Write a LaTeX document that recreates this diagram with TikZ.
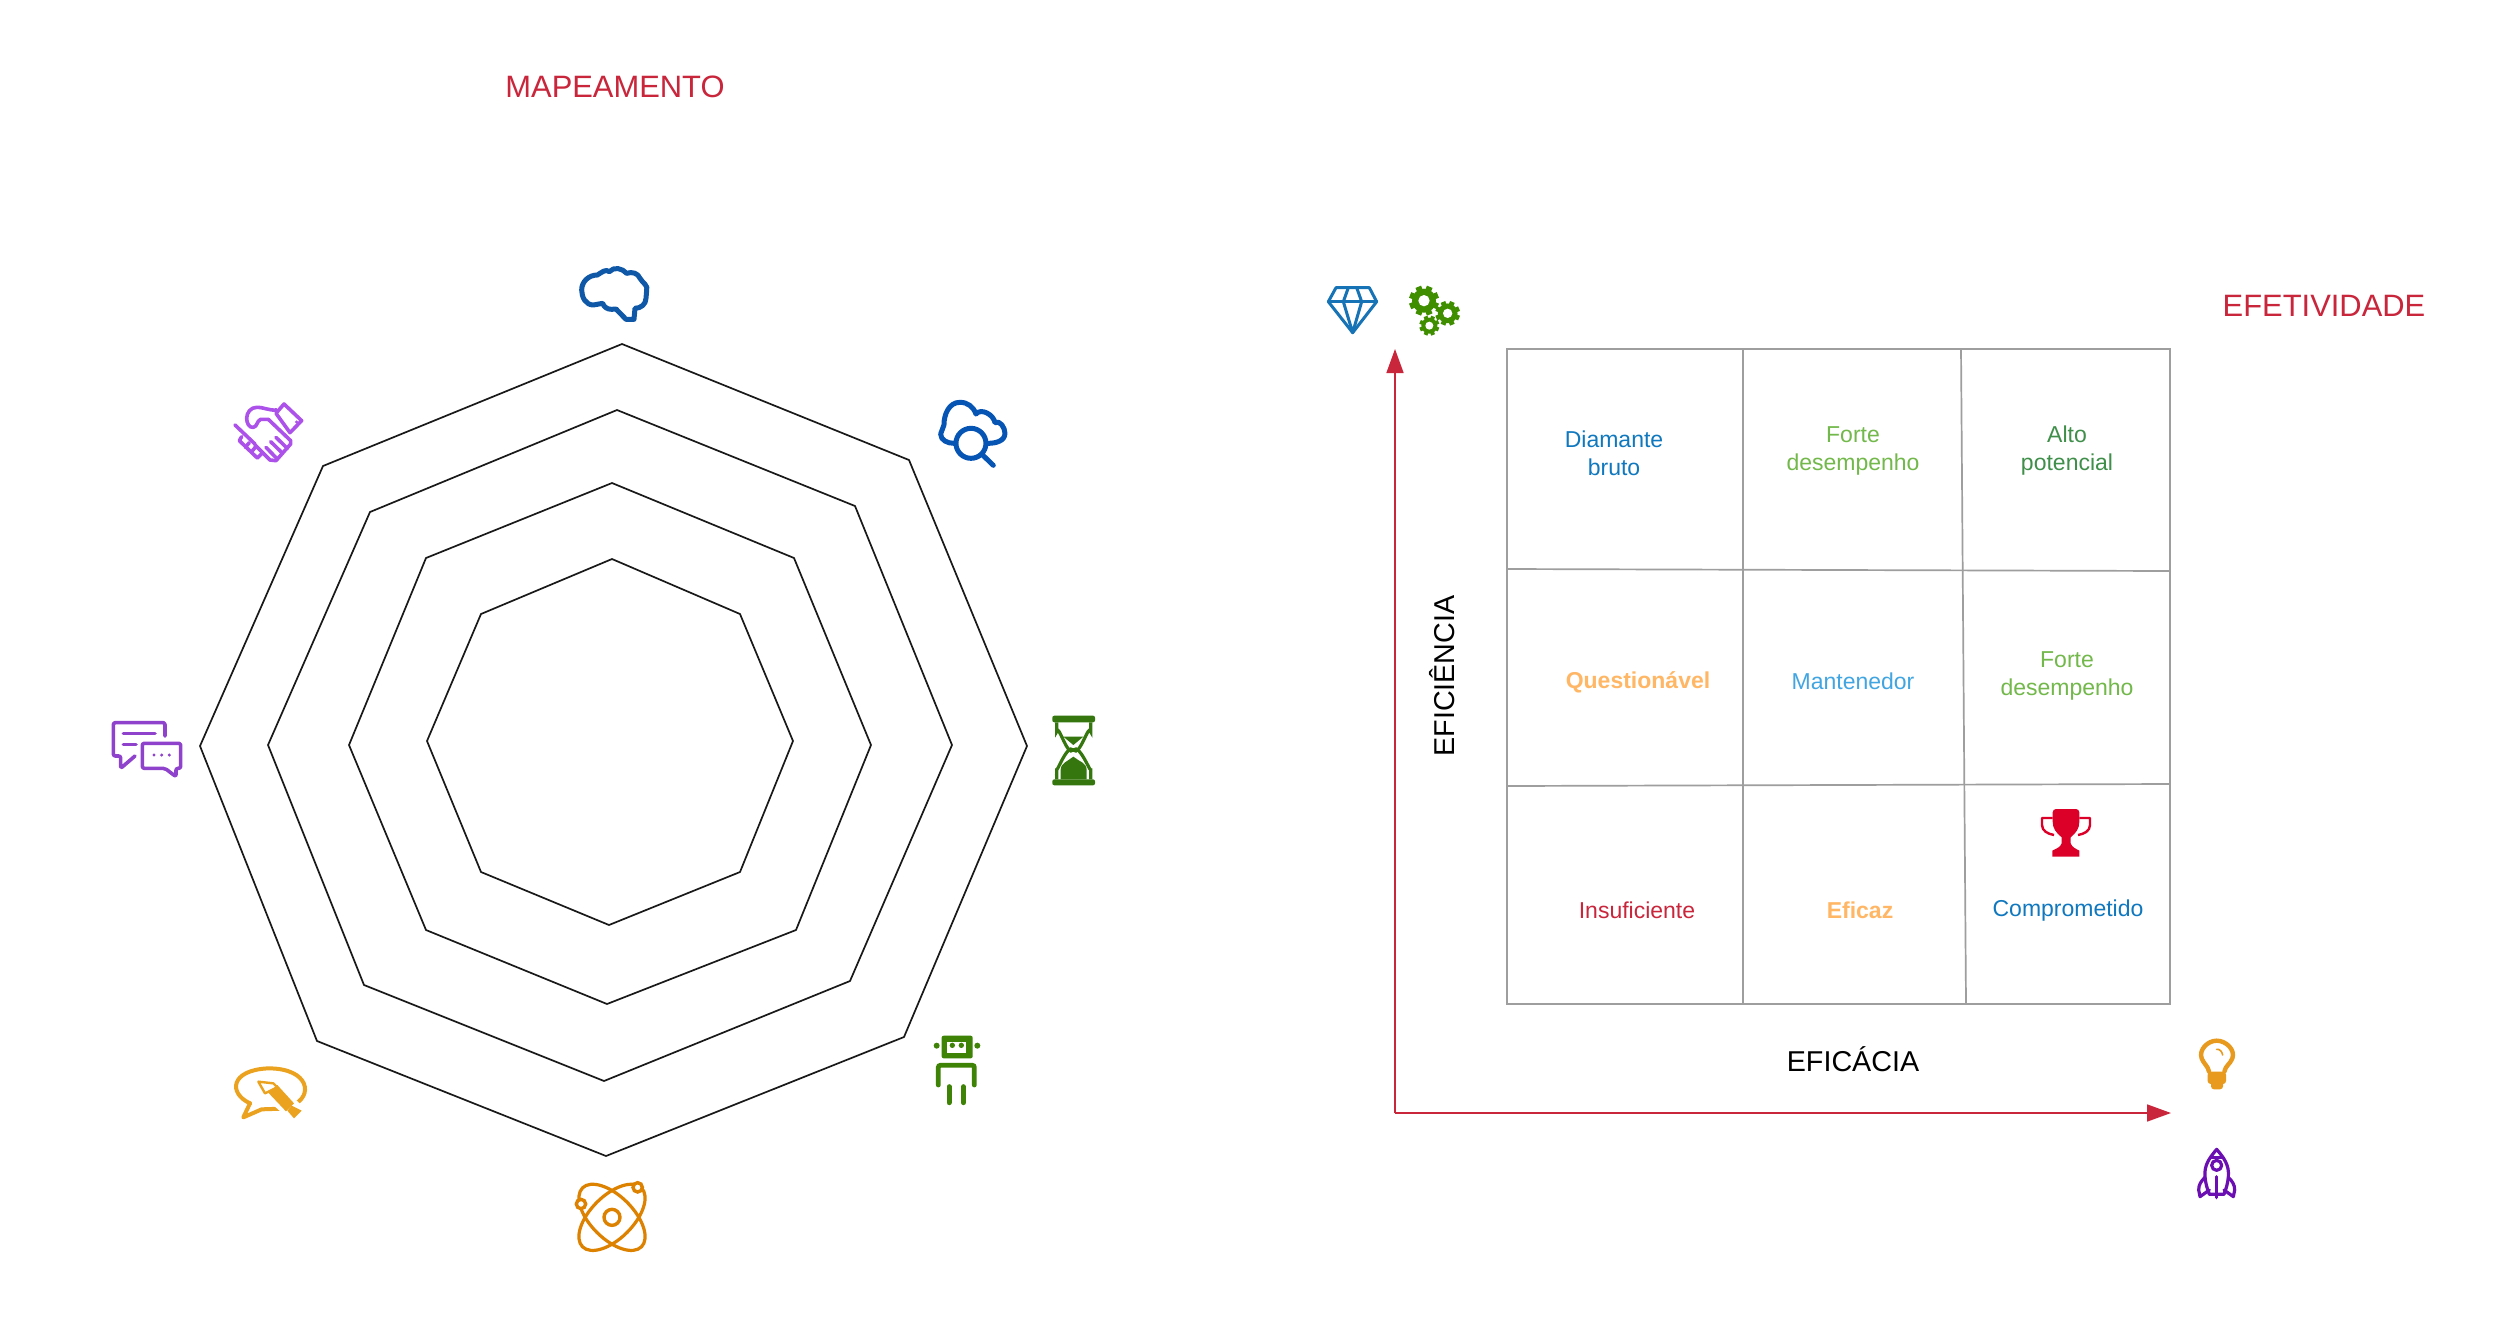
\documentclass[tikz,border=0pt]{standalone}
\usepackage{fontspec}
\setmainfont{Liberation Sans}
\usetikzlibrary{arrows.meta}
\definecolor{crim}{HTML}{C9263C}
\definecolor{blueA}{HTML}{0F58A8}
\definecolor{blueB}{HTML}{0654B4}
\definecolor{purA}{HTML}{AC52EA}
\definecolor{purB}{HTML}{8F42CC}
\definecolor{greenA}{HTML}{35760F}
\definecolor{greenB}{HTML}{3E8206}
\definecolor{greenC}{HTML}{3F8E00}
\definecolor{orA}{HTML}{EBA21F}
\definecolor{orB}{HTML}{DC8200}
\definecolor{orC}{HTML}{E79A1E}
\definecolor{diam}{HTML}{1673B5}
\definecolor{rock}{HTML}{6B0FB3}
\definecolor{troph}{HTML}{DC0028}
\definecolor{tBlue}{HTML}{1078BE}
\definecolor{tLime}{HTML}{72B84A}
\definecolor{tGreen}{HTML}{3F8F4A}
\definecolor{tOrange}{HTML}{FFB766}
\definecolor{tSky}{HTML}{41A5E1}
\tikzset{
  x=1pt,y=-1pt,
  octa/.style={draw=black!90,line width=1.7pt,line join=miter},
  gridln/.style={draw=black!38,line width=1.7pt},
  axis/.style={draw=crim,line width=1.6pt,-{Triangle[length=24pt,width=17pt]}},
  title/.style={text=crim,font=\fontsize{30.9}{36}\selectfont},
  axlabel/.style={text=black,font=\fontsize{28.7}{34}\selectfont},
  cell/.style={align=center,font=\fontsize{23}{28}\selectfont},
  cellb/.style={cell,font=\fontsize{23}{28}\selectfont\bfseries},
  ico/.style={line width=#1pt,line cap=round,line join=round},
  ico/.default=4,
}
\newcommand{\gearicon}[5]{% x y R hole color
  \fill[#5] (#1,#2) circle[radius=#3*0.8];
  \foreach \a in {0,45,...,315}{
    \fill[#5,shift={(#1,#2)},rotate=\a+22.5] (-#3*0.2,0) rectangle (#3*0.2,#3);
  }
  \fill[white] (#1,#2) circle[radius=#4];
}
\begin{document}
\begin{tikzpicture}
\useasboundingbox (0,0) rectangle (2500,1342);
\fill[white] (0,0) rectangle (2500,1342);

% octagons
\draw[octa] (622,344)--(909,460)--(1027,746)--(904,1037)--(606,1156)--(317,1041)--(200,746)--(323,466)--cycle;
\draw[octa] (617,410)--(855,506)--(952,745)--(850,981)--(604,1081)--(364,985)--(268,745)--(370,512)--cycle;
\draw[octa] (612,483)--(794,558)--(871,745)--(796,930)--(607,1004)--(426,930)--(349,745)--(426,558)--cycle;
\draw[octa] (612,559)--(740,614)--(793,741)--(740,872)--(609,925)--(481,872)--(427,741)--(481,614)--cycle;

% titles
\node[title] (tmap) at (615,87) {MAPEAMENTO};
\node[title] (tefe) at (2324,306) {EFETIVIDADE};

% grid
\draw[gridln] (1507,349) rectangle (2170,1004);
\draw[gridln] (1743,349)--(1743,1004);
\draw[gridln] (1961,349)--(1966,1004);
\draw[gridln] (1507,569)--(2170,571);
\draw[gridln] (1507,786)--(2170,784);

% axes
\coordinate (origin) at (1395,1113);
\coordinate (ytip) at (1395,349);
\coordinate (xtip) at (2171,1113);
\draw[axis] (origin)--(ytip);
\draw[axis] (origin)--(xtip);
\node[axlabel] (xl) at (1853,1059) {EFICÁCIA};
\node[axlabel,rotate=90] (yl) at (1442,676) {EFICIÊNCIA};

% cells
\node[cell,text=tBlue] (c1) at (1614,453) {Diamante\\bruto};
\node[cell,text=tLime] (c2) at (1853,451) {Forte\\desempenho};
\node[cell,text=tGreen] (c3) at (2067,451) {Alto\\potencial};
\node[cellb,text=tOrange] (c4) at (1638,682) {Questionável};
\node[cell,text=tSky] (c5) at (1853,681) {Mantenedor};
\node[cell,text=tLime] (c6) at (2067,676) {Forte\\desempenho};
\node[cell,text=crim] (c7) at (1637,910) {Insuficiente};
\node[cellb,text=tOrange] (c8) at (1860,910) {Eficaz};
\node[cell,text=tBlue] (c9) at (2068,911) {Comprometido};

% brain + cloud search (zoom origin 540,240)
\begin{scope}[shift={(540,240)},x=0.3333pt,y=-0.3333pt]
\draw[blueA,ico=5] (172,105) to[out=180,in=90] (125,150) to[out=-90,in=180] (160,195)
  to[out=0,in=180] (188,190) to[out=-70,in=180] (215,208) to[out=0,in=180] (228,207)
  -- (258,238) -- (282,238) -- (285,205) to[out=0,in=-90] (318,175) -- (320,152)
  to[out=70,in=-60] (300,115) to[out=110,in=20] (260,100) to[out=130,in=50] (208,95)
  to[out=140,in=30] (172,105) -- cycle;
\draw[blueB,ico=5] (1242,610) to[out=180,in=-90] (1202,582) to[out=90,in=-90] (1212,555)
  to[out=90,in=180] (1260,487) to[out=0,in=110] (1308,522) to[out=50,in=100] (1365,548)
  to[out=30,in=90] (1395,580) to[out=-90,in=0] (1345,610);
\draw[blueB,ico=5] (1293,610) circle[radius=45];
\draw[blueB,ico=5] (1328,645)--(1360,676);
\end{scope}

% handshake
\begin{scope}[shift={(200,370)},x=0.3333pt,y=-0.3333pt,purA,ico=3.6]
\draw (252,102)--(305,152)--(270,188)--(228,130)--cycle;
\fill (290,156) circle[radius=5];
\draw (230,120) to[out=185,in=0] (170,112) to[out=180,in=90] (140,145) to[out=-90,in=190] (160,172) to[out=10,in=200] (182,148) -- (205,148)--(272,212)--(272,222)--(228,272)--(210,270)--(165,225);
\draw (105,165)--(165,222);
\draw (125,200)--(118,212)--(172,264)--(186,250);
\draw (148,218)--(136,232) (166,232)--(154,246);
\draw (198,232)--(230,265) (212,215)--(248,250) (228,202)--(262,235);
\end{scope}

% chat
\begin{scope}[shift={(90,700)},x=0.3333pt,y=-0.3333pt,purB,ico=3.6]
\draw[rounded corners=2pt] (225,108)--(225,68)--(70,68)--(70,168)--(92,168)--(92,205)--(135,168);
\draw (100,100)--(195,100) (100,134)--(138,134);
\draw[rounded corners=2pt] (157,130)--(272,130)--(272,205)--(258,205)--(258,230)--(225,205)--(157,205)--cycle;
\fill (192,165) circle[radius=5] (215,165) circle[radius=5] (238,165) circle[radius=5];
\end{scope}

% hourglass
\begin{scope}[shift={(1020,700)},x=0.3333pt,y=-0.3333pt,greenA]
\fill[rounded corners=2pt] (97,47) rectangle (225,67);
\fill[rounded corners=2pt] (97,238) rectangle (225,256);
\draw[line width=3.2pt] (110,67)--(110,95) to[out=80,in=-130] (160,150) to[out=50,in=-80] (212,205)--(212,238);
\draw[line width=3.2pt] (212,67)--(212,95) to[out=100,in=-50] (160,150) to[out=130,in=-100] (110,205)--(110,238);
\fill (130,110)--(190,110)--(160,135)--cycle;
\fill (160,170) to[out=-140,in=90] (122,210)--(122,238)--(200,238)--(200,210) to[out=90,in=-40] (160,170)--cycle;
\end{scope}

% pencil bubble
\begin{scope}[shift={(200,1040)},x=0.3333pt,y=-0.3333pt,orA]
\draw[ico=4] (150,190) .. controls (85,160) and (90,90) .. (205,85) .. controls (330,85) and (340,170) .. (278,195);
\draw[ico=4] (150,190)--(130,232)--(185,208)--(245,206);
\fill[white] (160,115)--(235,125)--(320,212)--(282,250)--(185,165)--cycle;
\draw[ico=2.4,fill=white] (175,125)--(220,130)--(232,142)--(195,160)--cycle;
\fill (205,158)--(232,135)--(282,190)--(258,214)--cycle;
\fill (275,197)--(305,212)--(282,235)--(262,212)--cycle;
\end{scope}

% robot
\begin{scope}[shift={(900,1020)},x=0.3333pt,y=-0.3333pt,greenB]
\fill[rounded corners=2pt] (125,47) rectangle (218,115);
\fill (110,77) circle[radius=9] (232,77) circle[radius=9];
\fill[white] (142,65) rectangle (198,98);
\fill (157,76) circle[radius=8] (184,76) circle[radius=8];
\draw[line width=4.8pt,line cap=round,rounded corners=2pt] (115,195)--(115,136)--(223,136)--(223,195);
\draw[line width=5pt,line cap=round] (147,200)--(147,248) (190,200)--(190,248);
\end{scope}

% atom
\begin{scope}[shift={(550,1160)},x=0.3333pt,y=-0.3333pt,orB]
\draw[line width=3.2pt] (186,172) ellipse[x radius=125pt*0.3333,y radius=64pt*0.3333,rotate=45];
\draw[line width=3.2pt] (186,172) ellipse[x radius=125pt*0.3333,y radius=64pt*0.3333,rotate=-45];
\draw[line width=3.4pt] (186,172) circle[radius=24];
\draw[line width=3.4pt,fill=white] (263,82) circle[radius=14];
\draw[line width=3.4pt,fill=white] (93,132) circle[radius=14];
\end{scope}

% diamond
\begin{scope}[shift={(1310,270)},x=0.3333pt,y=-0.3333pt,diam,ico=3]
\draw (78,53)--(178,53)--(200,95)--(128,188)--(55,95)--cycle;
\draw (55,95)--(200,95);
\draw (115,53)--(100,95)--(128,188)--(155,95)--(140,53);
\end{scope}

% gears
\begin{scope}[shift={(1310,270)},x=0.3333pt,y=-0.3333pt]
\gearicon{342}{92}{45}{17}{greenC}
\gearicon{413}{130}{37}{14}{greenC}
\gearicon{358}{167}{30}{12}{greenC}
\end{scope}

% bulb & rocket
\begin{scope}[shift={(2160,1020)},x=0.3333pt,y=-0.3333pt]
\draw[orC,ico=4.4] (147,155) to[out=100,in=-70] (125,115) to[out=110,in=180] (170,62) to[out=0,in=70] (217,115) to[out=-110,in=80] (193,155);
\draw[orC,line width=1.6pt,line cap=round] (170,88) to[out=10,in=100] (188,105);
\fill[orC,rounded corners=3pt] (143,155) rectangle (198,192);
\fill[orC,rounded corners=3pt] (153,180) rectangle (189,208);
\begin{scope}[rock,ico=3.2]
\draw (170,388) to[out=-130,in=95] (135,470) to[out=-85,in=110] (148,523)--(192,523) to[out=70,in=-95] (205,470) to[out=85,in=-50] (170,388)--cycle;
\draw (153,412)--(187,412);
\draw (170,436) circle[radius=15];
\draw (170,470)--(170,533);
\draw (135,472) to[out=-135,in=90] (116,510)--(120,530)--(148,510);
\draw (205,472) to[out=-45,in=90] (224,510)--(220,530)--(192,510);
\end{scope}
\end{scope}

% trophy
\begin{scope}[shift={(2020,780)},x=0.3333pt,y=-0.3333pt,troph]
\fill (108,87)--(168,87) to[out=0,in=90] (178,97)--(178,125) to[out=-90,in=40] (152,172)--(152,190) to[out=-70,in=150] (178,212)--(178,230)--(97,230)--(97,212) to[out=30,in=-110] (125,190)--(125,172) to[out=140,in=-90] (98,125)--(98,97) to[out=90,in=180] (108,87)--cycle;
\draw[line width=2.4pt,line join=round] (98,114)--(66,114)--(66,135) to[out=-90,in=170] (102,165);
\draw[line width=2.4pt,line join=round] (178,114)--(210,114)--(210,135) to[out=-90,in=10] (174,165);
\end{scope}
\end{tikzpicture}
\end{document}
